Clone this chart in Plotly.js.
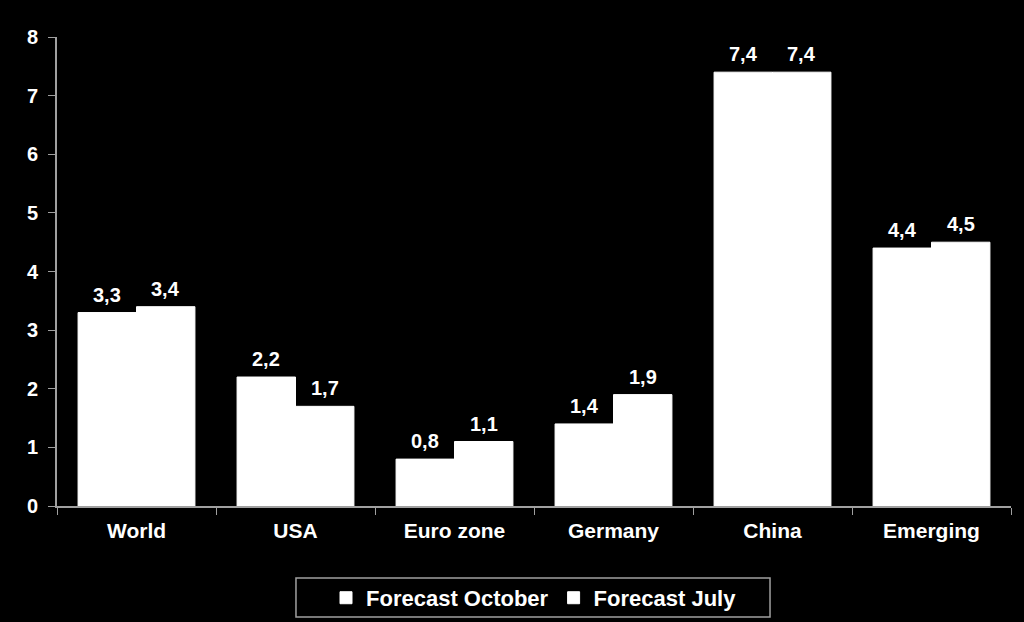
<!DOCTYPE html>
<html>
<head>
<meta charset="utf-8">
<script src="https://cdn.plot.ly/plotly-3.0.1.min.js"></script>
<style>
  html, body { margin: 0; padding: 0; background: #000; }
  #chart { width: 1024px; height: 622px; }
</style>
</head>
<body>
<div id="chart"></div>
<script>
const categories = ['World', 'USA', 'Euro zone', 'Germany', 'China', 'Emerging'];
const forecastOctober = [3.3, 2.2, 0.8, 1.4, 7.4, 4.4];
const forecastJuly = [3.4, 1.7, 1.1, 1.9, 7.4, 4.5];
const yTicks = [0, 1, 2, 3, 4, 5, 6, 7, 8];

const FONT = 'Liberation Sans, Arial, sans-serif';
const W = 1024, H = 622;
const MARGIN = { t: 37, b: 116, l: 57, r: 13, autoexpand: false };
const BARGAP = 0.265;

// half a bar width in pixels, to put the value labels over each bar of a group
const plotW = W - MARGIN.l - MARGIN.r;
const barShift = (plotW / categories.length) * (1 - BARGAP) / 4;

function barTrace(name, values) {
    return {
        type: 'bar', name: name, x: categories, y: values,
        marker: { color: '#ffffff', line: { color: '#ffffff', width: 1 } },
        hoverinfo: 'skip'
    };
}

function valueLabels(values, shift) {
    return values.map((v, i) => ({
        x: categories[i], y: v, xref: 'x', yref: 'y',
        text: '<b>' + v.toFixed(1).replace('.', ',') + '</b>',
        showarrow: false, xshift: shift, yshift: 5, yanchor: 'bottom',
        font: { family: FONT, size: 20, color: '#fff' }
    }));
}

const traces = [
    barTrace('<b>Forecast October</b>', forecastOctober),
    barTrace('<b>Forecast July</b>', forecastJuly)
];

const layout = {
    width: W, height: H,
    paper_bgcolor: '#000', plot_bgcolor: '#000',
    font: { family: FONT, color: '#fff', size: 18 },
    separators: ',.',
    margin: MARGIN,
    barmode: 'group', bargap: BARGAP, bargroupgap: 0,
    xaxis: {
        showgrid: false, showline: true, linecolor: '#a0a0a0', linewidth: 2,
        ticks: 'outside', tickson: 'boundaries', ticklen: 7, tickcolor: '#a0a0a0',
        ticklabelstandoff: 5,
        tickfont: { family: FONT, size: 21, color: '#fff', weight: 'bold' },
        fixedrange: true, automargin: false
    },
    yaxis: {
        range: [0, 8], tickvals: yTicks, showgrid: false, zeroline: false,
        showline: true, linecolor: '#a0a0a0', linewidth: 2,
        ticks: 'outside', ticklen: 7, tickcolor: '#a0a0a0',
        ticklabelstandoff: 6,
        tickfont: { family: FONT, size: 20, color: '#fff', weight: 'bold' },
        fixedrange: true, automargin: false
    },
    annotations: [
        ...valueLabels(forecastOctober, -barShift),
        ...valueLabels(forecastJuly, barShift)
    ],
    shapes: [{
        type: 'rect', xref: 'paper', yref: 'paper',
        x0: 0.2505, x1: 0.7474, y0: -0.2367, y1: -0.1535,
        line: { color: '#a0a0a0', width: 1.5 }, fillcolor: 'rgba(0,0,0,0)'
    }],
    showlegend: true,
    legend: {
        orientation: 'h', x: 0.5, xanchor: 'center', y: -0.196, yanchor: 'middle',
        bgcolor: 'rgba(0,0,0,0)', borderwidth: 0,
        font: { family: FONT, size: 22, color: '#fff' },
        itemwidth: 30, traceorder: 'normal'
    }
};

Plotly.newPlot('chart', traces, layout, { displayModeBar: false, staticPlot: true });
</script>
</body>
</html>
